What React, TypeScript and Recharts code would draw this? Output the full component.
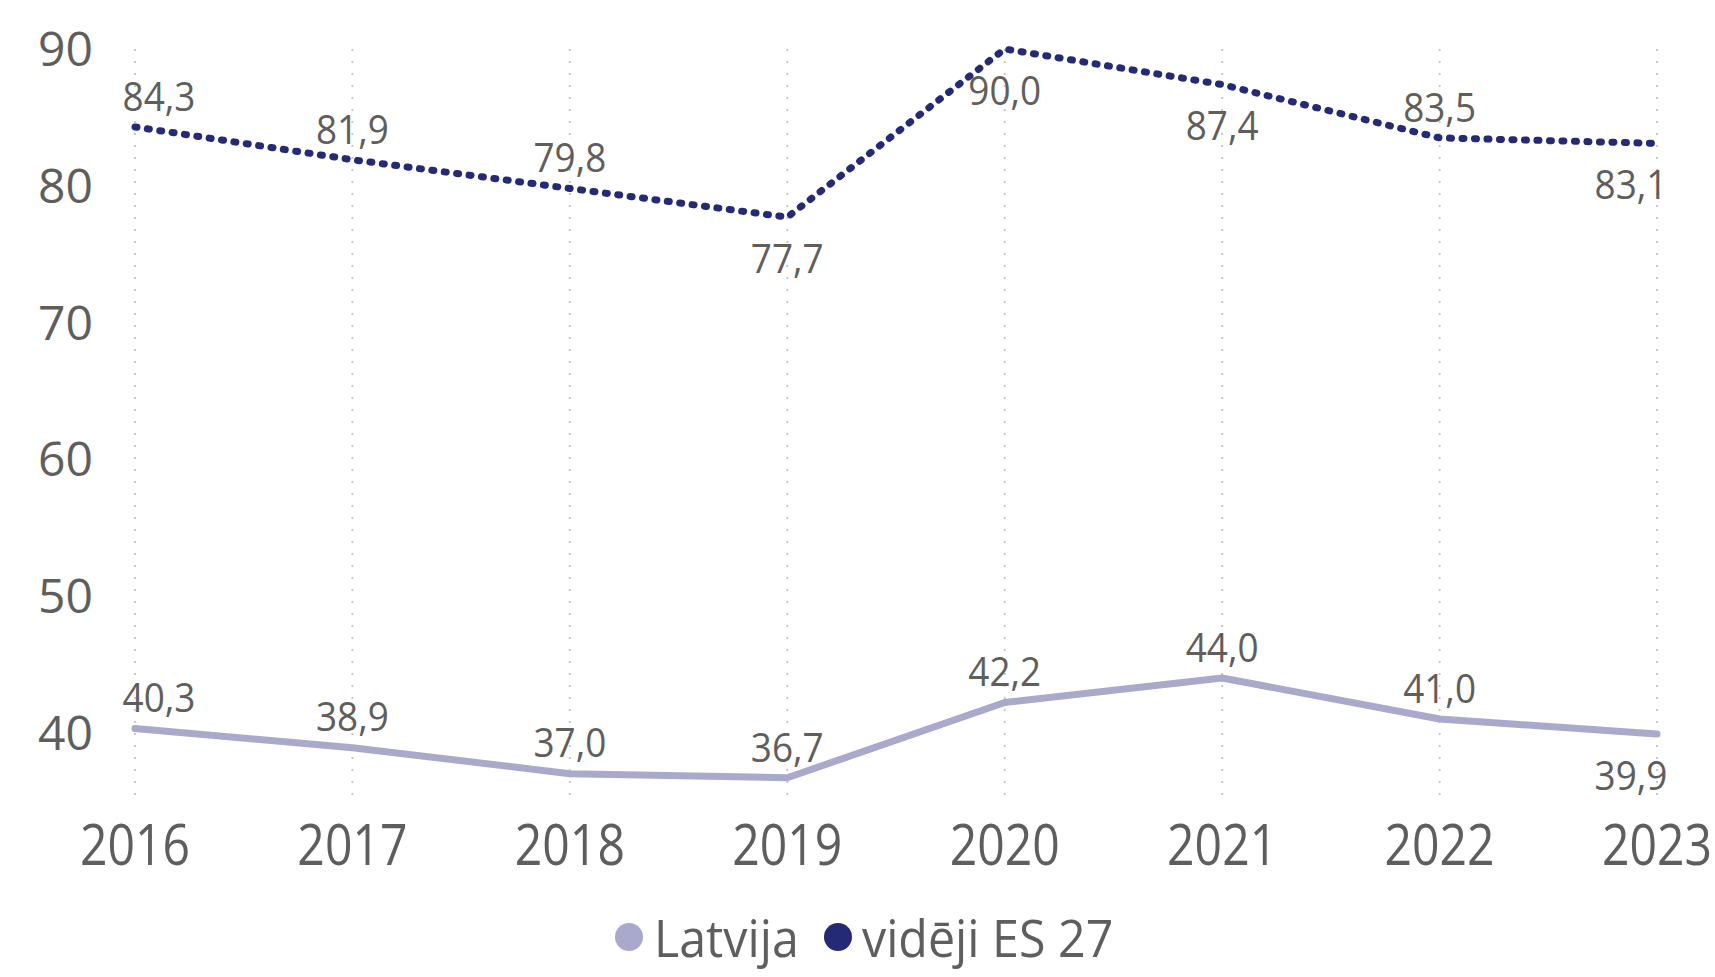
import React from 'react';
import { LineChart, Line, XAxis, YAxis, CartesianGrid, LabelList } from 'recharts';

const years = ['2016', '2017', '2018', '2019', '2020', '2021', '2022', '2023'];
const latvija = [40.3, 38.9, 37.0, 36.7, 42.2, 44.0, 41.0, 39.9];
const euAvg = [84.3, 81.9, 79.8, 77.7, 90.0, 87.4, 83.5, 83.1];
const yTicks = [40, 50, 60, 70, 80, 90];
const seriesNames = ['Latvija', 'vidēji ES 27'];
const latvijaLabelBelow = [false, false, false, false, false, false, false, true];
const euLabelBelow = [false, false, false, true, true, true, false, true];

const data = years.map((y, i) => ({ year: y, latvija: latvija[i], eu: euAvg[i] }));

const W = 1715;
const H = 977;
const FONT = "'Open Sans', 'Noto Sans', sans-serif";
const TEXT = '#605E5C';
const C_LV = '#A9AACB';
const C_EU = '#252A76';

const fmt = (v: number) => v.toFixed(1).replace('.', ',');

const makeLabel = (below: boolean[]) => (props: any) => {
  const { x, y, value, index } = props;
  const off = below[index] ? 41 : -31;
  const shift = index === 0 ? 24 : index === years.length - 1 ? -26 : 0;
  return (
    <text
      transform={`translate(${x + shift},${y + off}) scale(0.9,1)`}
      textAnchor="middle"
      dy="0.36em"
      fontSize={41}
      fill={TEXT}
      fontFamily={FONT}
    >
      {fmt(value)}
    </text>
  );
};

const YTick = (props: any) => {
  const { x, y, payload } = props;
  return (
    <text x={x - 42} y={y} dy="0.36em" textAnchor="end" fontSize={48} fill={TEXT} fontFamily={FONT}>
      {payload.value}
    </text>
  );
};

const XTick = (props: any) => {
  const { x, y, payload } = props;
  return (
    <text
      transform={`translate(${x},${y + 44}) scale(0.86,1)`}
      dy="0.36em"
      textAnchor="middle"
      fontSize={56}
      fill={TEXT}
      fontFamily={FONT}
    >
      {payload.value}
    </text>
  );
};

export default function App() {
  return (
    <div style={{ position: 'relative', width: W, height: H, background: '#fff' }}>
      <style>{`body{margin:0;}`}</style>
      <LineChart width={W} height={H} data={data} margin={{ top: 49, right: 58, left: 0, bottom: 0 }}>
        <CartesianGrid vertical horizontal={false} stroke="#C8C8C8" strokeWidth={2} strokeDasharray="2 10" />
        <XAxis
          dataKey="year"
          height={176}
          axisLine={false}
          tickLine={false}
          tickSize={0}
          tickMargin={0}
          tick={<XTick />}
          interval={0}
        />
        <YAxis
          width={135}
          domain={[35, 90]}
          ticks={yTicks}
          axisLine={false}
          tickLine={false}
          tickSize={0}
          tickMargin={0}
          tick={<YTick />}
          interval={0}
        />
        <Line
          type="linear"
          dataKey="latvija"
          name={seriesNames[0]}
          stroke={C_LV}
          strokeWidth={7}
          strokeLinecap="round"
          strokeLinejoin="round"
          dot={false}
          activeDot={false}
          isAnimationActive={false}
        >
          <LabelList dataKey="latvija" content={makeLabel(latvijaLabelBelow)} />
        </Line>
        <Line
          type="linear"
          dataKey="eu"
          name={seriesNames[1]}
          stroke={C_EU}
          strokeWidth={7}
          strokeLinecap="round"
          strokeDasharray="2 10.5"
          dot={false}
          activeDot={false}
          isAnimationActive={false}
        >
          <LabelList dataKey="eu" content={makeLabel(euLabelBelow)} />
        </Line>
      </LineChart>
      <svg width={W} height={H} style={{ position: 'absolute', left: 0, top: 0, pointerEvents: 'none' }}>
        <circle cx={629} cy={937} r={14} fill={C_LV} />
        <text transform="translate(654,957) scale(0.93,1)" fontSize={52} fill={TEXT} fontFamily={FONT}>
          {seriesNames[0]}
        </text>
        <circle cx={838} cy={937} r={14} fill={C_EU} />
        <text transform="translate(862,957) scale(0.93,1)" fontSize={52} fill={TEXT} fontFamily={FONT}>
          {seriesNames[1]}
        </text>
      </svg>
    </div>
  );
}
